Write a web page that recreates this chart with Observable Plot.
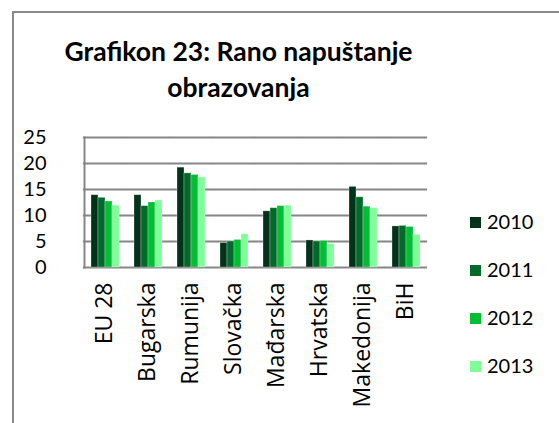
<!DOCTYPE html>
<html>
<head>
<meta charset="utf-8">
<script src="https://cdn.jsdelivr.net/npm/d3@7"></script>
<script src="https://cdn.jsdelivr.net/npm/@observablehq/plot@0.6"></script>
<style>
  html, body { margin: 0; padding: 0; background: #fff; }
  #wrap { position: relative; width: 559px; height: 423px; overflow: hidden; font-family: Lato, "Open Sans", sans-serif; }
  #frame { position: absolute; left: 12px; top: 11px; width: 600px; height: 500px; border-left: 2px solid #898989; border-top: 2px solid #898989; }
  #title { position: absolute; left: 0px; width: 477px; top: 33px; text-align: center; font-weight: 700; font-size: 26.5px; line-height: 36px; color: #000; }
  #chart { position: absolute; left: 0; top: 0; }
  #legend { position: absolute; left: 470px; top: 209px; font-size: 20px; color: #000; }
  .li { height: 48px; display: flex; align-items: flex-start; }
  .sw { width: 11px; height: 11px; margin-right: 6px; margin-top: 8px; }
  #chart g[aria-label="fx-axis tick label"] { font-family: "Open Sans", sans-serif; font-size: 23px; }
</style>
</head>
<body>
<div id="wrap">
  <div id="frame"></div>
  <div id="title">Grafikon 23: Rano napuštanje<br>obrazovanja</div>
  <div id="chart"></div>
  <div id="legend"></div>
</div>
<script>
const countries = ["EU 28", "Bugarska", "Rumunija", "Slovačka", "Mađarska", "Hrvatska", "Makedonija", "BiH"];
const years = ["2010", "2011", "2012", "2013"];
const v2010 = [13.9, 13.9, 19.2, 4.7, 10.8, 5.2, 15.5, 7.9];
const v2011 = [13.4, 11.8, 18.1, 5.0, 11.4, 5.0, 13.5, 8.0];
const v2012 = [12.7, 12.5, 17.8, 5.3, 11.8, 5.1, 11.7, 7.8];
const v2013 = [11.9, 12.9, 17.3, 6.4, 11.9, 4.5, 11.4, 6.3];
const colors = ["#00331a", "#006b29", "#00bf33", "#80ff99"];
const yTicks = [0, 5, 10, 15, 20, 25];

const series = [v2010, v2011, v2012, v2013];
const data = [];
countries.forEach((c, i) => years.forEach((y, k) => data.push({country: c, year: y, value: series[k][i]})));

const chart = Plot.plot({
  width: 559,
  height: 423,
  marginTop: 137,
  marginLeft: 88,
  marginRight: 138,
  marginBottom: 156,
  style: {fontFamily: "Lato, 'Open Sans', sans-serif", fontSize: "20px", color: "#000", background: "transparent"},
  fx: {domain: countries, paddingInner: 0.28, paddingOuter: 0, label: null, tickRotate: -90, tickSize: 0, tickPadding: 15, axis: "bottom"},
  x: {domain: years, padding: 0, axis: null},
  y: {domain: [0, 25], ticks: yTicks, label: null, tickSize: 0, tickPadding: 43, tickFormat: d => String(d)},
  color: {domain: years, range: colors},
  marks: [
    Plot.ruleY(yTicks, {stroke: "#868686", strokeWidth: 2, strokeOpacity: 1, insetLeft: -6.1, insetRight: -6.1}),
    Plot.frame({anchor: "left", facet: "super", stroke: "#868686", strokeWidth: 2, insetLeft: -5}),
    Plot.barY(data, {fx: "country", x: "year", y: "value", fill: "year", stroke: "#ffffff", strokeOpacity: 0.35, strokeWidth: 0.8})
  ]
});
document.getElementById("chart").appendChild(chart);

const legend = document.getElementById("legend");
years.forEach((y, k) => {
  const row = document.createElement("div");
  row.className = "li";
  const sw = document.createElement("div");
  sw.className = "sw";
  sw.style.background = colors[k];
  const t = document.createElement("span");
  t.textContent = y;
  row.appendChild(sw);
  row.appendChild(t);
  legend.appendChild(row);
});
</script>
</body>
</html>
